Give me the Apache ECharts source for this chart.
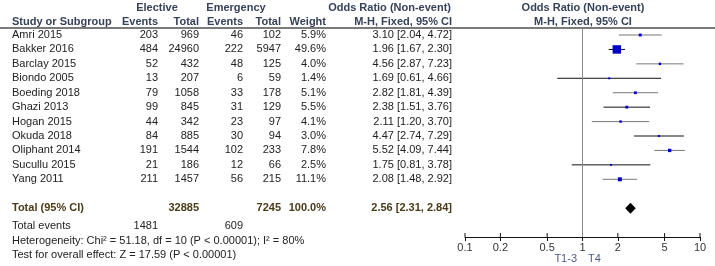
<!DOCTYPE html>
<html>
<head>
<meta charset="utf-8">
<script src="https://cdn.jsdelivr.net/npm/echarts@6/dist/echarts.min.js"></script>
<style>
    html, body { margin: 0; padding: 0; background: #ffffff; }
    #chart { width: 715px; height: 266px; }
</style>
</head>
<body>
<div id="chart"></div>
<script>
// study rows
const studies = ['Amri 2015', 'Bakker 2016', 'Barclay 2015', 'Biondo 2005', 'Boeding 2018', 'Ghazi 2013',
    'Hogan 2015', 'Okuda 2018', 'Oliphant 2014', 'Sucullu 2015', 'Yang 2011'];
const elecEvents = [203, 484, 52, 13, 79, 99, 44, 84, 191, 21, 211];
const elecTotal = [969, 24960, 432, 207, 1058, 845, 342, 885, 1544, 186, 1457];
const emerEvents = [46, 222, 48, 6, 33, 31, 23, 30, 102, 12, 56];
const emerTotal = [102, 5947, 125, 59, 178, 129, 97, 94, 233, 66, 215];
const weights = [5.9, 49.6, 4.0, 1.4, 5.1, 5.5, 4.1, 3.0, 7.8, 2.5, 11.1];
const oddsRatio = [3.10, 1.96, 4.56, 1.69, 2.82, 2.38, 2.11, 4.47, 5.52, 1.75, 2.08];
const ciLow = [2.04, 1.67, 2.87, 0.61, 1.81, 1.51, 1.20, 2.74, 4.09, 0.81, 1.48];
const ciHigh = [4.72, 2.30, 7.23, 4.66, 4.39, 3.76, 3.70, 7.29, 7.44, 3.78, 2.92];

// pooled result
const totalOR = [2.56, 2.31, 2.84];
const totalElec = 32885;
const totalEmer = 7245;
const totalEventsElec = 1481;
const totalEventsEmer = 609;

// axis ticks
const tickValues = [0.1, 0.2, 0.5, 1, 2, 5, 10];

const FONT = '"Liberation Sans", Arial, sans-serif';
const HEAD = '#36425a';
const TOT = '#4a3a18';
const TOTAL_ROW = 12;
const Y_MAX = 14;

const chart = echarts.init(document.getElementById('chart'));

const forestData = studies.map((s, i) => [oddsRatio[i], ciLow[i], ciHigh[i], i, weights[i]]);

chart.setOption({
    animation: false,
    grid: { left: 465, right: 15, top: 27.8, bottom: 29 },
    xAxis: {
        type: 'log',
        logBase: 10,
        min: 0.1,
        max: 10,
        position: 'bottom',
        axisLine: { show: true, onZero: false, lineStyle: { color: '#111', width: 1 } },
        axisTick: { show: true, length: 4, customValues: tickValues, lineStyle: { color: '#111' } },
        axisLabel: {
            customValues: tickValues,
            formatter: (v) => String(+v.toPrecision(2)),
            color: '#333',
            fontSize: 11,
            fontFamily: FONT,
            margin: 5,
        },
        splitLine: { show: false },
    },
    yAxis: {
        type: 'value',
        inverse: true,
        min: -0.5,
        max: Y_MAX,
        show: false,
    },
    series: [
        {
            // line of no effect
            type: 'line',
            data: [[1, -0.5], [1, Y_MAX]],
            symbol: 'none',
            lineStyle: { color: '#888', width: 1 },
            silent: true,
        },
        {
            // upper half of the axis ticks
            type: 'custom',
            data: tickValues.map((v) => [v, Y_MAX]),
            encode: { x: 0, y: 1 },
            silent: true,
            renderItem: (params, api) => {
                const p = api.coord([api.value(0), api.value(1)]);
                return {
                    type: 'line',
                    shape: { x1: p[0], y1: p[1] - 4, x2: p[0], y2: p[1] },
                    style: { stroke: '#111', lineWidth: 1 },
                };
            },
        },
        {
            type: 'custom',
            data: forestData,
            encode: { x: [0, 1, 2], y: 3 },
            renderItem: (params, api) => {
                const row = api.value(3);
                const c = api.coord([api.value(0), row]);
                const lo = api.coord([api.value(1), row]);
                const hi = api.coord([api.value(2), row]);
                const side = Math.max(2, 1.2 * Math.sqrt(api.value(4)));
                const lineColor = params.dataIndex % 2 === 0 ? '#777' : '#111';
                return {
                    type: 'group',
                    children: [
                        {
                            type: 'line',
                            shape: { x1: lo[0], y1: c[1], x2: hi[0], y2: c[1] },
                            style: { stroke: lineColor, lineWidth: 1 },
                        },
                        {
                            type: 'rect',
                            shape: { x: c[0] - side / 2, y: c[1] - side / 2, width: side, height: side },
                            style: { fill: '#0000c8' },
                        },
                    ],
                };
            },
        },
        {
            type: 'custom',
            data: [[totalOR[0], totalOR[1], totalOR[2], TOTAL_ROW]],
            encode: { x: [0, 1, 2], y: 3 },
            renderItem: (params, api) => {
                const row = api.value(3);
                const c = api.coord([api.value(0), row]);
                const lo = api.coord([api.value(1), row]);
                const hi = api.coord([api.value(2), row]);
                return {
                    type: 'polygon',
                    shape: { points: [[lo[0], c[1]], [c[0], c[1] - 5.5], [hi[0], c[1]], [c[0], c[1] + 5.5]] },
                    style: { fill: '#000' },
                };
            },
        },
    ],
});

// table text
const rowY = (r) => chart.convertToPixel({ yAxisIndex: 0 }, r);
const texts = [];
function txt(x, y, s, align, opts) {
    texts.push({
        type: 'text',
        x: x,
        y: y,
        silent: true,
        style: Object.assign({
            text: s,
            align: align || 'left',
            verticalAlign: 'middle',
            font: '11px ' + FONT,
            fill: '#222',
        }, opts || {}),
    });
}
const bold = (color) => ({ font: 'bold 11px ' + FONT, fill: color });

// headers
txt(157, 8, 'Elective', 'center', bold(HEAD));
txt(236, 8, 'Emergency', 'center', bold(HEAD));
txt(451, 8, 'Odds Ratio (Non-event)', 'right', bold(HEAD));
txt(583, 8, 'Odds Ratio (Non-event)', 'center', bold(HEAD));
txt(12, 22, 'Study or Subgroup', 'left', bold(HEAD));
txt(158, 22, 'Events', 'right', bold(HEAD));
txt(199, 22, 'Total', 'right', bold(HEAD));
txt(243, 22, 'Events', 'right', bold(HEAD));
txt(281, 22, 'Total', 'right', bold(HEAD));
txt(326, 22, 'Weight', 'right', bold(HEAD));
txt(452, 22, 'M-H, Fixed, 95% CI', 'right', bold(HEAD));
txt(583, 22, 'M-H, Fixed, 95% CI', 'center', bold(HEAD));

studies.forEach((s, i) => {
    const y = rowY(i);
    txt(12, y, s, 'left');
    txt(158, y, String(elecEvents[i]), 'right');
    txt(199, y, String(elecTotal[i]), 'right');
    txt(243, y, String(emerEvents[i]), 'right');
    txt(281, y, String(emerTotal[i]), 'right');
    txt(326, y, weights[i].toFixed(1) + '%', 'right');
    txt(452, y, oddsRatio[i].toFixed(2) + ' [' + ciLow[i].toFixed(2) + ', ' + ciHigh[i].toFixed(2) + ']', 'right');
});

const ty = rowY(TOTAL_ROW);
txt(12, ty, 'Total (95% CI)', 'left', bold(TOT));
txt(199, ty, String(totalElec), 'right', bold(TOT));
txt(281, ty, String(totalEmer), 'right', bold(TOT));
txt(326, ty, '100.0%', 'right', bold(TOT));
txt(452, ty, totalOR[0].toFixed(2) + ' [' + totalOR[1].toFixed(2) + ', ' + totalOR[2].toFixed(2) + ']', 'right', bold(TOT));

txt(12, 226, 'Total events', 'left');
txt(158, 226, String(totalEventsElec), 'right');
txt(243, 226, String(totalEventsEmer), 'right');
txt(12, 241, 'Heterogeneity: Chi\u00b2 = 51.18, df = 10 (P < 0.00001); I\u00b2 = 80%', 'left');
txt(12, 255, 'Test for overall effect: Z = 17.59 (P < 0.00001)', 'left');

txt(577, 259, 'T1-3', 'right', { fill: '#4a5a8c' });
txt(588, 259, 'T4', 'left', { fill: '#4a5a8c' });

// header rule
texts.push({
    type: 'line',
    silent: true,
    shape: { x1: 0, y1: 28, x2: 715, y2: 28 },
    style: { stroke: '#7a7a7a', lineWidth: 2 },
});

chart.setOption({ graphic: texts });
</script>
</body>
</html>
